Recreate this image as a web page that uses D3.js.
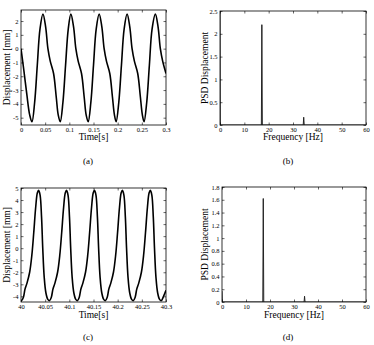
<!DOCTYPE html>
<html><head><meta charset="utf-8">
<script src="https://cdn.jsdelivr.net/npm/d3@7"></script>
<style>
body{margin:0;background:#fff}
svg{display:block}
text{font-family:"Liberation Serif","Times New Roman","DejaVu Serif",serif;fill:#000}
</style>
</head><body>
<svg id="chart" width="374" height="345"></svg>
<script>
// ---------- data ----------
// (a) displacement vs time, 0 - 0.3 s
const timeA = [0,0.006,0.012,0.018,0.0227,
  0.0282,0.0337,0.0392,0.0454,0.0509,0.0557,0.0605,0.0674,0.0729,0.0770,0.0812,
  0.0867,0.0922,0.0977,0.1032,0.1087,0.1135,0.1183,0.1252,0.1307,0.1348,0.1390,
  0.1445,0.1500,0.1555,0.1617,0.1672,0.1720,0.1768,0.1837,0.1892,0.1933,0.1968,
  0.2023,0.2078,0.2133,0.2195,0.2250,0.2298,0.2346,0.2415,0.2470,0.2511,0.2546,
  0.2601,0.2656,0.2711,0.2780,0.2835,0.2883,0.2931,0.3000];
const dispA = [0,-1.6,-3.3,-4.8,-5.3,
  -3.9,-1.2,1.4,2.5,1.6,0.0,-0.9,-1.8,-3.5,-4.8,-5.3,
  -3.9,-1.2,1.4,2.5,1.6,0.0,-0.9,-1.8,-3.5,-4.8,-5.3,
  -3.9,-1.2,1.4,2.5,1.6,0.0,-0.9,-1.8,-3.5,-4.8,-5.3,
  -3.9,-1.2,1.4,2.5,1.6,0.0,-0.9,-1.8,-3.5,-4.8,-5.3,
  -3.9,-1.2,1.4,2.5,1.6,0.0,-0.9,-1.8];

// (c) displacement vs time, 40 - 40.3 s
const timeC = [40.0000,40.0014,
  40.0048,40.0083,40.0124,40.0179,40.0224,40.0264,40.0304,40.0339,40.0365,
  40.0395,40.0425,40.0450,40.0480,40.0515,40.0555,40.0592,
  40.0626,40.0661,40.0702,40.0757,40.0802,40.0842,40.0882,40.0917,40.0943,
  40.0973,40.1003,40.1028,40.1058,40.1093,40.1133,40.1170,
  40.1204,40.1239,40.1280,40.1335,40.1380,40.1420,40.1460,40.1495,40.1521,
  40.1551,40.1581,40.1606,40.1636,40.1671,40.1711,40.1748,
  40.1782,40.1817,40.1858,40.1913,40.1958,40.1998,40.2038,40.2073,40.2099,
  40.2129,40.2159,40.2184,40.2214,40.2249,40.2289,40.2326,
  40.2360,40.2395,40.2436,40.2491,40.2536,40.2576,40.2616,40.2651,40.2677,
  40.2707,40.2737,40.2762,40.2792,40.2827,40.2867,40.2904,
  40.2938,40.3000];
const dispC = [-4.30,-4.35,
  -4.1,-3.4,-2.9,-2.0,-0.6,1.3,3.4,4.6,4.8,
  4.4,2.6,0.0,-2.4,-3.7,-4.25,-4.35,
  -4.1,-3.4,-2.9,-2.0,-0.6,1.3,3.4,4.6,4.8,
  4.4,2.6,0.0,-2.4,-3.7,-4.25,-4.35,
  -4.1,-3.4,-2.9,-2.0,-0.6,1.3,3.4,4.6,4.8,
  4.4,2.6,0.0,-2.4,-3.7,-4.25,-4.35,
  -4.1,-3.4,-2.9,-2.0,-0.6,1.3,3.4,4.6,4.8,
  4.4,2.6,0.0,-2.4,-3.7,-4.25,-4.35,
  -4.1,-3.4,-2.9,-2.0,-0.6,1.3,3.4,4.6,4.8,
  4.4,2.6,0.0,-2.4,-3.7,-4.25,-4.35,
  -4.1,-3.5];

// (b) PSD of (a)
const freqB = [0,0.1,17.0,17.2,17.4,34.2,34.4,34.6,60];
const psdB  = [3.0,0,0,2.2,0,0,0.17,0,0];
// (d) PSD of (c)
const freqD = [0,0.1,17.0,17.2,17.4,34.2,34.4,34.6,60];
const psdD  = [0.17,0,0,1.62,0,0,0.09,0,0];

// ticks
const xTicksA = [0,0.05,0.1,0.15,0.2,0.25,0.3];
const xTickLabelsA = ["0","0.05","0.1","0.15","0.2","0.25","0.3"];
const yTicksA = [-5,-4,-3,-2,-1,0,1,2];
const yTickLabelsA = ["-5","-4","-3","-2","-1","0","1","2"];
const xTicksC = [40,40.05,40.1,40.15,40.2,40.25,40.3];
const xTickLabelsC = ["40","40.05","40.1","40.15","40.2","40.25","40.3"];
const yTicksC = [-4,-3,-2,-1,0,1,2,3,4,5];
const yTickLabelsC = ["-4","-3","-2","-1","0","1","2","3","4","5"];
const xTicksF = [0,10,20,30,40,50,60];
const xTickLabelsF = ["0","10","20","30","40","50","60"];
const yTicksB = [0,0.5,1,1.5,2,2.5];
const yTickLabelsB = ["0","0.5","1","1.5","2","2.5"];
const yTicksD = [0,0.2,0.4,0.6,0.8,1,1.2,1.4,1.6,1.8];
const yTickLabelsD = ["0","0.2","0.4","0.6","0.8","1","1.2","1.4","1.6","1.8"];

// ---------- drawing ----------
const svg = d3.select("#chart");
const FONT = "Liberation Serif, Times New Roman, DejaVu Serif, serif";

function panel(o){
  const g = svg.append("g");
  const x = d3.scaleLinear().domain(o.xDom).range([o.l,o.r]);
  const y = d3.scaleLinear().domain(o.yDom).range([o.b,o.t]);
  const id = "clip"+o.name;
  svg.append("clipPath").attr("id",id).append("rect")
    .attr("x",o.l).attr("y",o.t).attr("width",o.r-o.l).attr("height",o.b-o.t);

  const pts = o.xs.map((v,i)=>[v,o.ys[i]]);
  g.append("path").datum(pts)
    .attr("clip-path","url(#"+id+")")
    .attr("fill","none").attr("stroke",o.color).attr("stroke-width",o.lw)
    .attr("stroke-linejoin","round")
    .attr("d", d3.line().x(d=>x(d[0])).y(d=>y(d[1])).curve(o.curve));

  const fmtX = d=>o.xLabels[o.xTicks.indexOf(d)];
  const fmtY = d=>o.yLabels[o.yTicks.indexOf(d)];
  const tk = 2.5;
  const bot = g.append("g").attr("transform",`translate(0,${o.b})`)
    .call(d3.axisBottom(x).tickValues(o.xTicks).tickFormat(fmtX).tickSizeInner(-tk).tickSizeOuter(0).tickPadding(2.5));
  const top = g.append("g").attr("transform",`translate(0,${o.t})`)
    .call(d3.axisTop(x).tickValues(o.xTicks).tickFormat("").tickSizeInner(-tk).tickSizeOuter(0));
  const lef = g.append("g").attr("transform",`translate(${o.l},0)`)
    .call(d3.axisLeft(y).tickValues(o.yTicks).tickFormat(fmtY).tickSizeInner(-tk).tickSizeOuter(0).tickPadding(2.5));
  const rig = g.append("g").attr("transform",`translate(${o.r},0)`)
    .call(d3.axisRight(y).tickValues(o.yTicks).tickFormat("").tickSizeInner(-tk).tickSizeOuter(0));
  [bot,top,lef,rig].forEach(a=>{
    a.select(".domain").remove();
    a.selectAll("line").attr("stroke","#000").attr("stroke-width",0.6);
    a.selectAll("text").attr("font-family",FONT).attr("font-size",6.5).attr("fill","#222");
  });
  g.append("rect").attr("x",o.l).attr("y",o.t).attr("width",o.r-o.l).attr("height",o.b-o.t)
    .attr("fill","none").attr("stroke","#000").attr("stroke-width",0.8);

  g.append("text").attr("x",(o.l+o.r)/2).attr("y",o.xlabY).attr("text-anchor","middle")
    .attr("font-family",FONT).attr("font-size",9.5).attr("fill","#222").text(o.xlab);
  g.append("text").attr("transform",`translate(${o.ylabX},${(o.t+o.b)/2}) rotate(-90)`)
    .attr("text-anchor","middle").attr("dy","0.35em").attr("font-family",FONT)
    .attr("font-size",9.5).attr("fill","#222").text(o.ylab);
  g.append("text").attr("x",o.capX).attr("y",o.capY).attr("text-anchor","middle")
    .attr("dy","0.35em").attr("font-family",FONT).attr("font-size",9).attr("fill","#222").text(o.cap);
}

panel({name:"a",l:21,r:166,t:10,b:125,xDom:[0,0.3],yDom:[-5.53,2.8],
  xs:timeA,ys:dispA,color:"#000",lw:1.6,curve:d3.curveCatmullRom,
  xTicks:xTicksA,xLabels:xTickLabelsA,yTicks:yTicksA,yLabels:yTickLabelsA,
  xlab:"Time[s]",xlabY:140,ylab:"Displacement [mm]",ylabX:7,cap:"(a)",capX:88,capY:161});
panel({name:"b",l:220,r:366,t:11,b:125,xDom:[0,60],yDom:[0,2.5],
  xs:freqB,ys:psdB,color:"#222",lw:1,curve:d3.curveLinear,
  xTicks:xTicksF,xLabels:xTickLabelsF,yTicks:yTicksB,yLabels:yTickLabelsB,
  xlab:"Frequency [Hz]",xlabY:140,ylab:"PSD Displacement",ylabX:205,cap:"(b)",capX:288,capY:161});
panel({name:"c",l:21,r:166,t:188,b:302,xDom:[40,40.3],yDom:[-4.47,5],
  xs:timeC,ys:dispC,color:"#000",lw:1.6,curve:d3.curveCatmullRom,
  xTicks:xTicksC,xLabels:xTickLabelsC,yTicks:yTicksC,yLabels:yTickLabelsC,
  xlab:"Time[s]",xlabY:318,ylab:"Displacement [mm]",ylabX:7,cap:"(c)",capX:88,capY:337});
panel({name:"d",l:222,r:366,t:187,b:302,xDom:[0,60],yDom:[0,1.8],
  xs:freqD,ys:psdD,color:"#222",lw:1,curve:d3.curveLinear,
  xTicks:xTicksF,xLabels:xTickLabelsF,yTicks:yTicksD,yLabels:yTickLabelsD,
  xlab:"Frequency [Hz]",xlabY:318,ylab:"PSD Displacement",ylabX:205,cap:"(d)",capX:288,capY:337});
</script>
</body></html>
